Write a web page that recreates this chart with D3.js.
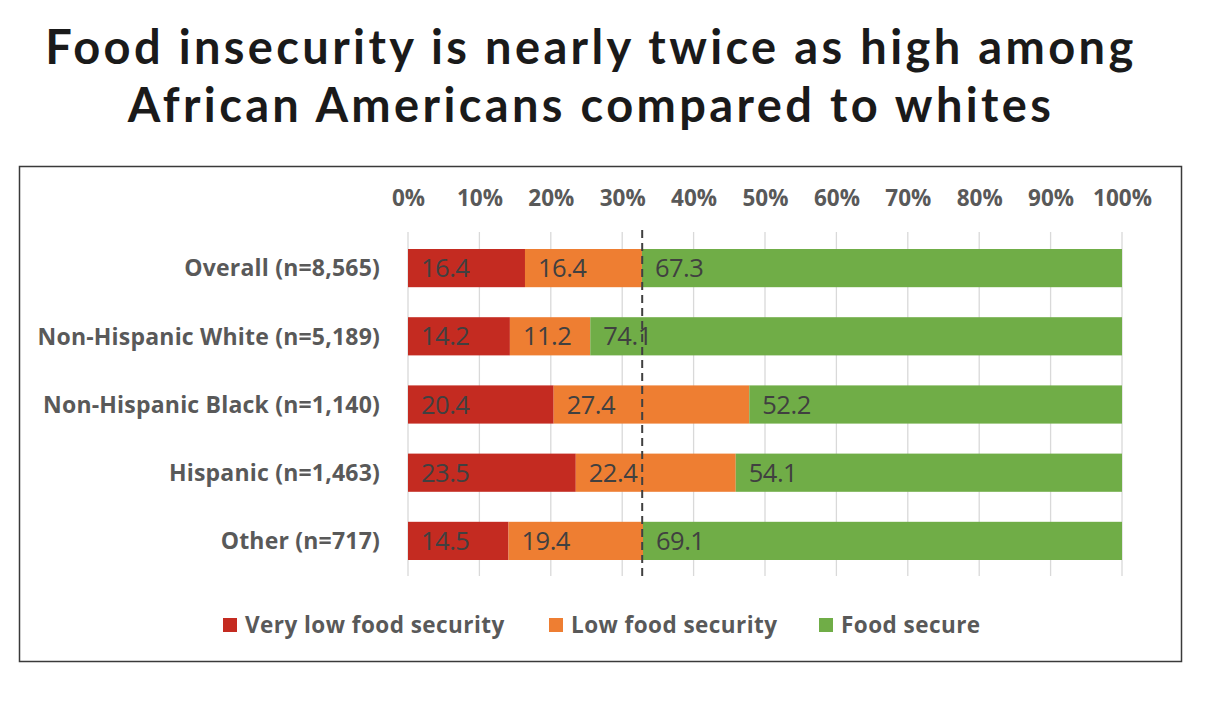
<!DOCTYPE html>
<html>
<head>
<meta charset="utf-8">
<script src="https://cdn.jsdelivr.net/npm/d3@7"></script>
<style>
  html, body { margin: 0; padding: 0; background: #fff; }
  svg { display: block; }
</style>
</head>
<body>
<svg id="chart" width="1208" height="728"></svg>
<script>
const titleLines = ["Food insecurity is nearly twice as high among", "African Americans compared to whites"];
const categories = ["Overall (n=8,565)", "Non-Hispanic White (n=5,189)", "Non-Hispanic Black (n=1,140)", "Hispanic (n=1,463)", "Other (n=717)"];
const seriesNames = ["Very low food security", "Low food security", "Food secure"];
const veryLow = [16.4, 14.2, 20.4, 23.5, 14.5];
const low = [16.4, 11.2, 27.4, 22.4, 19.4];
const secure = [67.3, 74.1, 52.2, 54.1, 69.1];
const tickValues = [0, 10, 20, 30, 40, 50, 60, 70, 80, 90, 100];
const referenceLine = [32.8];
const colors = ["#C42B21", "#EE7E32", "#70AD47"];

const svg = d3.select("#chart");

// Title
const title = svg.append("g");
const titleBase = [64, 122];
titleLines.forEach((t, i) => {
  title.append("text")
    .attr("x", 591).attr("y", titleBase[i])
    .attr("text-anchor", "middle")
    .attr("font-family", "Lato, 'Open Sans', sans-serif")
    .attr("font-weight", 700)
    .attr("font-size", 47)
    .attr("fill", "#1a1a1a")
    .text(t);
});
// widen letter spacing so line 1 matches reference width
const t0 = title.select("text").node();
const w0 = t0.getComputedTextLength();
const nChars = titleLines[0].length;
const ls = (1088 - w0) / (nChars - 1);
title.selectAll("text").attr("letter-spacing", ls);

// Frame
svg.append("rect").attr("x", 19.5).attr("y", 166.5).attr("width", 1162).attr("height", 495)
  .attr("fill", "none").attr("stroke", "#3a3a3a").attr("stroke-width", 1.5);

// Scales
const x = d3.scaleLinear().domain([0, 100]).range([408, 1122]);
const y = d3.scaleBand().domain(categories).range([234, 575]).paddingInner(0.44).paddingOuter(0.22);

// Gridlines
svg.append("g").selectAll("line").data(tickValues).join("line")
  .attr("x1", d => x(d)).attr("x2", d => x(d))
  .attr("y1", 232).attr("y2", 576)
  .attr("stroke", "#d9d9d9").attr("stroke-width", 1.3);

// Top axis
const axis = d3.axisTop(x).tickValues(tickValues).tickFormat(d => d + "%").tickSize(0).tickPadding(0);
const ax = svg.append("g").attr("transform", "translate(0,206)").call(axis);
ax.select(".domain").remove();
ax.selectAll("text")
  .attr("font-family", "'Open Sans', sans-serif")
  .attr("font-weight", 700)
  .attr("font-size", 22.5)
  .attr("fill", "#595959")
  .attr("letter-spacing", 0);

// Stack (100% stacked)
const rows = categories.map((c, i) => {
  const tot = veryLow[i] + low[i] + secure[i];
  return { cat: c, vals: [veryLow[i], low[i], secure[i]], tot };
});
const segs = [];
rows.forEach(r => {
  let acc = 0;
  r.vals.forEach((v, k) => {
    const p = v / r.tot * 100;
    segs.push({ cat: r.cat, k, v, x0: acc, x1: acc + p });
    acc += p;
  });
});

svg.append("g").selectAll("rect").data(segs).join("rect")
  .attr("x", d => x(d.x0))
  .attr("width", d => x(d.x1) - x(d.x0))
  .attr("y", d => y(d.cat))
  .attr("height", y.bandwidth())
  .attr("fill", d => colors[d.k]);

// Category labels
svg.append("g").selectAll("text").data(categories).join("text")
  .attr("x", 380).attr("y", d => y(d) + y.bandwidth() / 2)
  .attr("dy", "0.36em")
  .attr("text-anchor", "end")
  .attr("font-family", "'Open Sans', sans-serif")
  .attr("font-weight", 700)
  .attr("font-size", 23)
  .attr("fill", "#595959")
  .attr("letter-spacing", 0.2)
  .text(d => d);

// Dashed reference line
svg.append("g").selectAll("line").data(referenceLine).join("line")
  .attr("x1", d => x(d)).attr("x2", d => x(d))
  .attr("y1", 230).attr("y2", 576)
  .attr("stroke", "#404040").attr("stroke-width", 2)
  .attr("stroke-dasharray", "8,5");

// Data labels
svg.append("g").selectAll("text").data(segs).join("text")
  .attr("x", d => x(d.x0) + 13)
  .attr("y", d => y(d.cat) + y.bandwidth() / 2)
  .attr("dy", "0.36em")
  .attr("font-family", "'Open Sans', sans-serif")
  .attr("font-size", 25.5)
  .attr("fill", "#404040")
  .attr("letter-spacing", -0.5)
  .text(d => d.v.toFixed(1));

// Legend
const legendX = [223, 549, 819];
const lg = svg.append("g").selectAll("g").data(seriesNames).join("g")
  .attr("transform", (d, i) => `translate(${legendX[i]},618)`);
lg.append("rect").attr("width", 14).attr("height", 14).attr("fill", (d, i) => colors[i]);
lg.append("text").attr("x", 22).attr("y", 7).attr("dy", "0.36em")
  .attr("font-family", "'Open Sans', sans-serif")
  .attr("font-weight", 700)
  .attr("font-size", 22.5)
  .attr("fill", "#595959")
  .attr("letter-spacing", 0.45)
  .text(d => d);
</script>
</body>
</html>
